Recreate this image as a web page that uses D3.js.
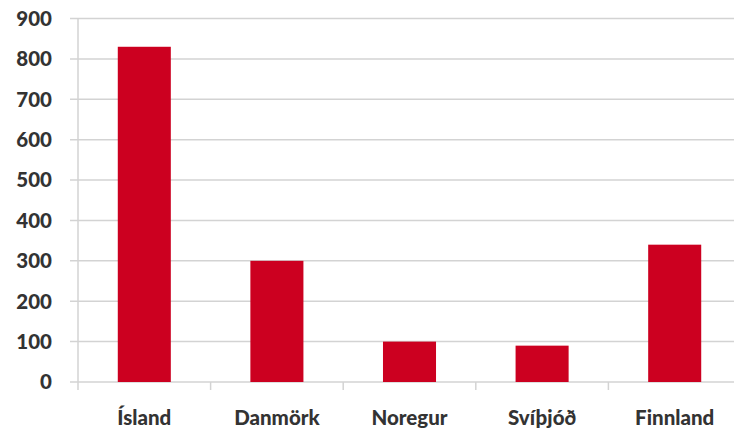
<!DOCTYPE html>
<html><head><meta charset="utf-8">
<script src="https://cdn.jsdelivr.net/npm/d3@7"></script>
<style>body{margin:0;background:#fff}svg{display:block}</style>
</head><body>
<script>
const categories = ["Ísland","Danmörk","Noregur","Svíþjóð","Finnland"];
const values = [830, 300, 100, 90, 340];
const yTicks = [0,100,200,300,400,500,600,700,800,900];

const W=734,H=431;
const svg=d3.select("body").append("svg").attr("width",W).attr("height",H);
const x0=78, x1=741, yTop=18.5, yBot=382;
const x=d3.scaleBand().domain(categories).range([x0,x1]).paddingInner(0.6).paddingOuter(0.3);
const y=d3.scaleLinear().domain([0,900]).range([yBot,yTop]);
const grid="#d3d3d3";
svg.append("g").selectAll("line").data(yTicks).join("line")
 .attr("x1",70).attr("x2",W).attr("y1",d=>y(d)).attr("y2",d=>y(d))
 .attr("stroke",grid).attr("stroke-width",1.5);
svg.append("line").attr("x1",x0).attr("x2",x0).attr("y1",yTop).attr("y2",390).attr("stroke",grid).attr("stroke-width",1.5);
const bw=(x1-x0)/categories.length;
svg.append("g").selectAll("line").data(d3.range(1,categories.length)).join("line")
 .attr("x1",i=>x0+i*bw).attr("x2",i=>x0+i*bw).attr("y1",yBot).attr("y2",390)
 .attr("stroke",grid).attr("stroke-width",1.5);
svg.append("g").selectAll("rect").data(values).join("rect")
 .attr("x",(d,i)=>x(categories[i])).attr("width",x.bandwidth())
 .attr("y",d=>y(d)).attr("height",d=>yBot-y(d)).attr("fill","#cc0020");
svg.append("g").selectAll("text").data(yTicks).join("text")
 .attr("x",52).attr("y",d=>y(d)).attr("dy","0.36em").attr("text-anchor","end")
 .attr("font-family","Lato, sans-serif").attr("font-weight",900).attr("font-size",20.5)
 .attr("fill","#333").text(d=>d);
svg.append("g").selectAll("text").data(categories).join("text")
 .attr("x",d=>x(d)+x.bandwidth()/2).attr("y",418).attr("dy","0.36em").attr("text-anchor","middle")
 .attr("font-family","Lato, sans-serif").attr("font-weight",900).attr("font-size",20.5)
 .attr("fill","#333").text(d=>d);
</script>
</body></html>
